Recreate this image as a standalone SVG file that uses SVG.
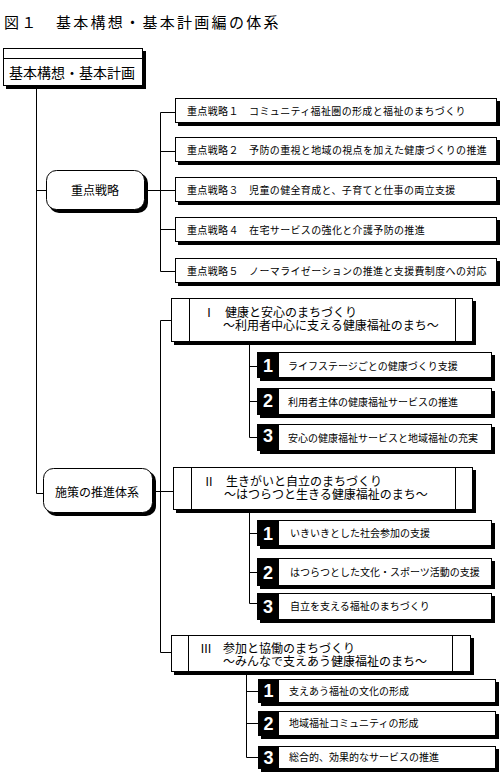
<svg xmlns="http://www.w3.org/2000/svg" width="504" height="776" viewBox="0 0 504 776">
<style>
text{font-family:"Noto Sans CJK JP","Noto Sans CJK SC",sans-serif;fill:#000}
.box{fill:#fff;stroke:#000;stroke-width:1}
.sh{fill:#000}
.ln{fill:none;stroke:#000;stroke-width:1}
.t10{font-size:10px}
.ts{font-size:10px;letter-spacing:0.35px}
.t12{font-size:12px}
.t14{font-size:14px}
.title{font-size:15px;letter-spacing:2.3px}
.num{font-family:"Liberation Sans",Arial,sans-serif;font-size:18px;font-weight:bold;fill:#fff;text-anchor:middle}
.mid{text-anchor:middle}
</style>
<rect width="504" height="776" fill="#fff"/>
<text class="title" x="4" y="28">図１　基本構想・基本計画編の体系</text>

<g id="connectors">
<path class="ln" d="M36.5 86V493.5H43M36.5 190.5H46"/>
<path class="ln" d="M145 190.5H160.5M160.5 112.5V271.5M160.5 112.5H175M160.5 151.5H175M160.5 190.5H175M160.5 229.5H175M160.5 271.5H175"/>
<path class="ln" d="M153 491.5H173M160.5 320.5V652.5M160.5 320.5H171M160.5 652.5H171"/>
<path class="ln" d="M249.5 342V437.5M249.5 366.5H257M249.5 401.5H257M249.5 437.5H257"/>
<path class="ln" d="M249.5 510V603.5M249.5 533.5H257M249.5 572.5H257M249.5 603.5H257"/>
<path class="ln" d="M246.5 671V757.5M246.5 691.5H258M246.5 723.5H258M246.5 757.5H258"/>
</g>

<g id="top">
<rect class="sh" x="6" y="51" width="140" height="38"/>
<rect class="box" x="3.5" y="48.5" width="139" height="37"/>
<line class="ln" x1="3.5" y1="58.5" x2="142.5" y2="58.5"/>
<text class="t14" x="9" y="78">基本構想・基本計画</text>
</g>

<g id="juten">
<rect class="sh" x="49" y="173" width="99" height="40" rx="10"/>
<rect class="box" x="46.5" y="170.5" width="98" height="39" rx="10"/>
<text class="t12 mid" x="95" y="195">重点戦略</text>
</g>

<g id="s1"><rect class="sh" x="178" y="101" width="322" height="25"/><rect class="box" x="175.5" y="98.5" width="321" height="24"/><text class="ts" x="187" y="115">重点戦略１　コミュニティ福祉圏の形成と福祉のまちづくり</text></g>
<g id="s2"><rect class="sh" x="178" y="140" width="322" height="25"/><rect class="box" x="175.5" y="137.5" width="321" height="24"/><text class="ts" x="187" y="154">重点戦略２　予防の重視と地域の視点を加えた健康づくりの推進</text></g>
<g id="s3"><rect class="sh" x="178" y="180" width="322" height="25"/><rect class="box" x="175.5" y="177.5" width="321" height="24"/><text class="ts" x="187" y="194">重点戦略３　児童の健全育成と、子育てと仕事の両立支援</text></g>
<g id="s4"><rect class="sh" x="178" y="220" width="322" height="25"/><rect class="box" x="175.5" y="217.5" width="321" height="24"/><text class="ts" x="187" y="234">重点戦略４　在宅サービスの強化と介護予防の推進</text></g>
<g id="s5"><rect class="sh" x="178" y="261" width="322" height="25"/><rect class="box" x="175.5" y="258.5" width="321" height="24"/><text class="ts" x="187" y="275">重点戦略５　ノーマライゼーションの推進と支援費制度への対応</text></g>

<g id="shisaku">
<rect class="sh" x="46" y="471" width="110" height="45" rx="10"/>
<rect class="box" x="43.5" y="468.5" width="109" height="44" rx="10"/>
<text class="t12 mid" x="97" y="497">施策の推進体系</text>
</g>

<g id="sec1">
<rect class="sh" x="174" y="301" width="302" height="44"/>
<rect class="box" x="171.5" y="298.5" width="301" height="43"/>
<path class="ln" d="M189.5 298.5V341.5M455.5 298.5V341.5"/>
<text class="t12" x="203" y="317">Ⅰ</text>
<text class="t12" x="225" y="317">健康と安心のまちづくり</text>
<text class="t12" x="223" y="330">～利用者中心に支える健康福祉のまち～</text>
</g>
<g id="i11"><rect class="sh" x="260" y="355" width="235" height="26"/><rect class="box" x="257.5" y="352.5" width="234" height="25"/><rect class="sh" x="257" y="352" width="22" height="26"/><text class="num" x="268" y="372">1</text><text class="t10" x="288" y="370">ライフステージごとの健康づくり支援</text></g>
<g id="i12"><rect class="sh" x="260" y="391" width="235" height="27"/><rect class="box" x="257.5" y="388.5" width="234" height="26"/><rect class="sh" x="257" y="388" width="22" height="27"/><text class="num" x="268" y="407">2</text><text class="t10" x="288" y="406">利用者主体の健康福祉サービスの推進</text></g>
<g id="i13"><rect class="sh" x="260" y="427" width="235" height="27"/><rect class="box" x="257.5" y="424.5" width="234" height="26"/><rect class="sh" x="257" y="424" width="22" height="27"/><text class="num" x="268" y="442">3</text><text class="t10" x="288" y="442">安心の健康福祉サービスと地域福祉の充実</text></g>

<g id="sec2">
<rect class="sh" x="176" y="470" width="300" height="43"/>
<rect class="box" x="173.5" y="467.5" width="299" height="42"/>
<path class="ln" d="M191.5 467.5V509.5M455.5 467.5V509.5"/>
<text class="t12" x="203" y="486">Ⅱ</text>
<text class="t12" x="226" y="486">生きがいと自立のまちづくり</text>
<text class="t12" x="224" y="499">～はつらつと生きる健康福祉のまち～</text>
</g>
<g id="i21"><rect class="sh" x="260" y="523" width="235" height="26"/><rect class="box" x="257.5" y="520.5" width="234" height="25"/><rect class="sh" x="257" y="520" width="22" height="26"/><text class="num" x="268" y="540">1</text><text class="t10" x="290" y="537">いきいきとした社会参加の支援</text></g>
<g id="i22"><rect class="sh" x="260" y="561" width="235" height="28"/><rect class="box" x="257.5" y="558.5" width="234" height="27"/><rect class="sh" x="257" y="558" width="22" height="28"/><text class="num" x="268" y="579">2</text><text class="t10" x="290" y="576">はつらつとした文化・スポーツ活動の支援</text></g>
<g id="i23"><rect class="sh" x="260" y="596" width="235" height="27"/><rect class="box" x="257.5" y="593.5" width="234" height="26"/><rect class="sh" x="257" y="593" width="22" height="27"/><text class="num" x="268" y="613">3</text><text class="t10" x="290" y="610">自立を支える福祉のまちづくり</text></g>

<g id="sec3">
<rect class="sh" x="174" y="638" width="300" height="37"/>
<rect class="box" x="171.5" y="635.5" width="299" height="36"/>
<path class="ln" d="M188.5 635.5V671.5M452.5 635.5V671.5"/>
<text class="t12" x="200" y="653">Ⅲ</text>
<text class="t12" x="223" y="653">参加と協働のまちづくり</text>
<text class="t12" x="223" y="666">～みんなで支えあう健康福祉のまち～</text>
</g>
<g id="i31"><rect class="sh" x="261" y="682" width="238" height="24"/><rect class="box" x="258.5" y="679.5" width="237" height="23"/><rect class="sh" x="258" y="679" width="21" height="24"/><text class="num" x="268.5" y="697">1</text><text class="t10" x="289" y="695">支えあう福祉の文化の形成</text></g>
<g id="i32"><rect class="sh" x="261" y="714" width="238" height="25"/><rect class="box" x="258.5" y="711.5" width="237" height="24"/><rect class="sh" x="258" y="711" width="21" height="25"/><text class="num" x="268.5" y="730">2</text><text class="t10" x="289" y="727">地域福祉コミュニティの形成</text></g>
<g id="i33"><rect class="sh" x="261" y="749" width="238" height="23"/><rect class="box" x="258.5" y="746.5" width="237" height="22"/><rect class="sh" x="258" y="746" width="21" height="23"/><text class="num" x="268.5" y="764">3</text><text class="t10" x="289" y="761">総合的、効果的なサービスの推進</text></g>
</svg>
